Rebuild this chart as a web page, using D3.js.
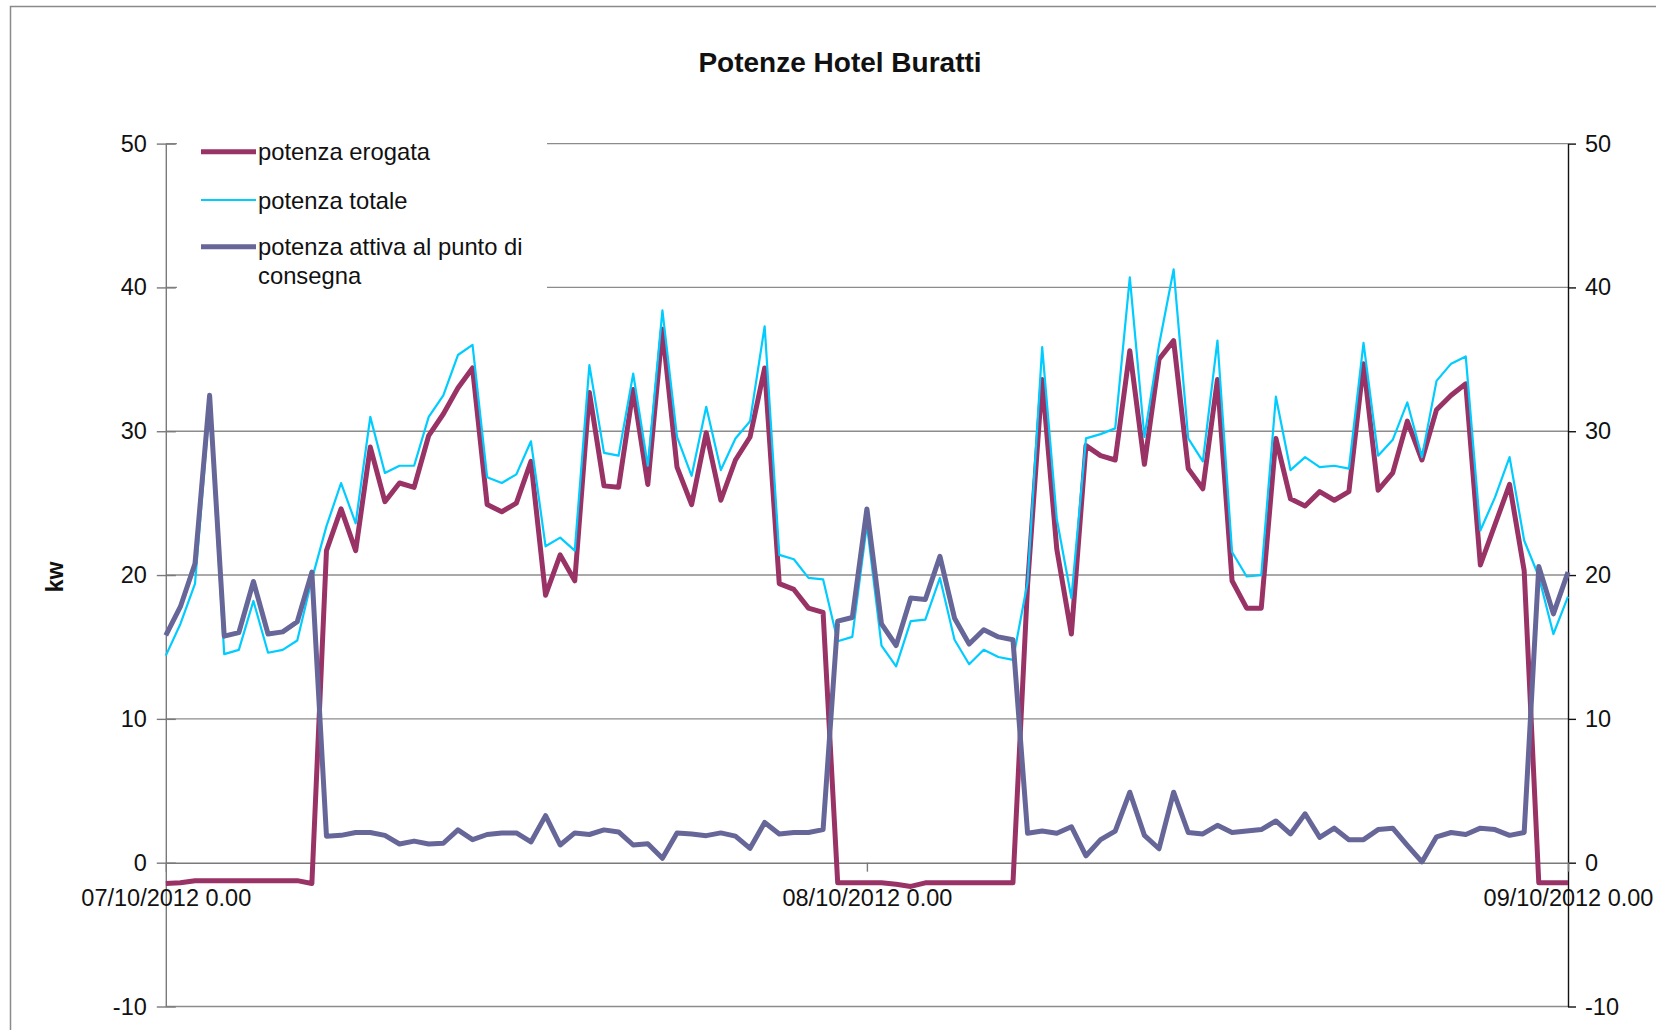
<!DOCTYPE html>
<html>
<head>
<meta charset="utf-8">
<script src="https://cdnjs.cloudflare.com/ajax/libs/d3/7.8.5/d3.min.js"></script>
<style>
  body { margin: 0; background: #fff; }
  text { font-family: "Liberation Sans", Arial, sans-serif; fill: #111; }
</style>
</head>
<body>
<div id="chart"></div>
<script>
// Half-hour readings, 07/10/2012 0.00 -> 09/10/2012 0.00 (97 points)
const startTime = new Date(2012, 9, 7, 0, 0);

const erogata = [
  -1.45, -1.4, -1.25, -1.25, -1.25, -1.25, -1.25, -1.25, -1.25, -1.25,
  -1.45, 21.7, 24.6, 21.7, 28.9, 25.1, 26.4, 26.1, 29.7, 31.2,
  33.0, 34.4, 24.9, 24.4, 25.0, 27.9, 18.6, 21.4, 19.6, 32.7,
  26.2, 26.1, 32.9, 26.3, 37.1, 27.5, 24.9, 29.9, 25.2, 28.0,
  29.6, 34.4, 19.4, 19.0, 17.7, 17.4, -1.4, -1.4, -1.4, -1.4,
  -1.5, -1.65, -1.4, -1.4, -1.4, -1.4, -1.4, -1.4, -1.4, 19.3,
  33.6, 21.8, 15.9, 29.0, 28.3, 28.0, 35.6, 27.7, 35.0, 36.3,
  27.4, 26.0, 33.6, 19.6, 17.7, 17.7, 29.5, 25.3, 24.8, 25.8,
  25.2, 25.8, 34.7, 25.9, 27.1, 30.7, 28.0, 31.5, 32.5, 33.3,
  20.7, 23.5, 26.3, 20.3, -1.4, -1.4, -1.4
];

const totale = [
  14.4, 16.6, 19.4, 31.8, 14.5, 14.8, 18.2, 14.6, 14.8, 15.45,
  19.7, 23.4, 26.4, 23.6, 31.0, 27.1, 27.6, 27.6, 31.0, 32.5,
  35.3, 36.0, 26.8, 26.4, 27.0, 29.3, 22.0, 22.6, 21.7, 34.6,
  28.5, 28.3, 34.0, 27.6, 38.4, 29.6, 26.9, 31.7, 27.3, 29.5,
  30.7, 37.3, 21.4, 21.1, 19.8, 19.7, 15.4, 15.7, 23.5, 15.1,
  13.65, 16.8, 16.9, 19.8, 15.5, 13.8, 14.8, 14.3, 14.1, 19.5,
  35.85, 23.9, 18.4, 29.5, 29.8, 30.2, 40.7, 29.6, 36.0, 41.25,
  29.5, 27.9, 36.3, 21.6, 19.9, 20.0, 32.4, 27.3, 28.2, 27.5,
  27.6, 27.4, 36.15, 28.3, 29.4, 32.0, 28.2, 33.5, 34.7, 35.2,
  23.1, 25.4, 28.2, 22.4, 19.9, 15.9, 18.5
];

const attiva = [
  15.8, 17.8, 20.8, 32.5, 15.75, 16.0, 19.55, 15.9, 16.05, 16.75,
  20.2, 1.84, 1.9, 2.1, 2.1, 1.9, 1.3, 1.5, 1.3, 1.35,
  2.28, 1.6, 1.96, 2.07, 2.07, 1.44, 3.27, 1.23, 2.07, 1.96,
  2.28, 2.14, 1.23, 1.31, 0.31, 2.07, 2.0, 1.88, 2.07, 1.85,
  1.0, 2.8, 2.0, 2.1, 2.1, 2.3, 16.8, 17.05, 24.6, 16.6,
  15.1, 18.4, 18.3, 21.3, 17.0, 15.2, 16.2, 15.7, 15.5, 2.05,
  2.2, 2.05, 2.5, 0.48, 1.6, 2.2, 4.9, 1.9, 0.97, 4.9,
  2.1, 2.0, 2.6, 2.1, 2.2, 2.3, 2.9, 2.0, 3.4, 1.76,
  2.4, 1.6, 1.6, 2.3, 2.4, 1.2, 0.05, 1.8, 2.1, 1.96,
  2.4, 2.3, 1.9, 2.1, 20.6, 17.3, 20.2
];

const yTicks = [-10, 0, 10, 20, 30, 40, 50];
const dayTicks = [new Date(2012, 9, 7), new Date(2012, 9, 8), new Date(2012, 9, 9)];
const seriesNames = ["potenza erogata", "potenza totale", "potenza attiva al punto di|consegna"];
const seriesColors = ["#993366", "#00ccff", "#666699"];
const seriesWidths = [5, 2.2, 5];

// Dimensions
const W = 1656, H = 1030;
const margin = { top: 143.6, right: 88, bottom: 23.5, left: 165.8 },
    width  = W - margin.left - margin.right,
    height = H - margin.top - margin.bottom;

const svg = d3.select("#chart")
    .append("svg")
    .attr("width", W)
    .attr("height", H);

// Outer chart border
svg.append("rect")
    .attr("x", 10.5).attr("y", 6.5)
    .attr("width", 1700).attr("height", 1100)
    .attr("fill", "none")
    .attr("stroke", "#8a8a8a")
    .attr("stroke-width", 1.5);

const g = svg.append("g")
    .attr("transform", `translate(${margin.left}, ${margin.top})`);

// Scales
const times = erogata.map((d, i) => d3.timeMinute.offset(startTime, 30 * i));
const x = d3.scaleTime()
    .domain([times[0], times[times.length - 1]])
    .range([0, width]);

const y = d3.scaleLinear()
    .domain([-10, 50])
    .range([height, 0]);

// plain hyphen for negatives, like the original
const yFormat = d => String(d);

// Gridlines
g.selectAll(".grid")
    .data(yTicks.filter(d => d !== 0))
    .enter()
    .append("line")
    .attr("x1", 0).attr("x2", width)
    .attr("y1", d => y(d)).attr("y2", d => y(d))
    .attr("stroke", "#8c8c8c")
    .attr("stroke-width", 1.4);

// Left axis
const yAxisL = g.append("g")
    .call(d3.axisLeft(y).tickValues(yTicks).tickFormat(yFormat)
        .tickSize(9).tickSizeOuter(0).tickPadding(10));
yAxisL.select(".domain").attr("stroke", "#7a7a7a").attr("stroke-width", 1.4);
yAxisL.selectAll(".tick line").attr("stroke", "#7a7a7a").attr("stroke-width", 1.4)
    .attr("x2", 10).attr("x1", -9);
yAxisL.selectAll(".tick text").attr("font-size", 23.5).attr("font-family", null).attr("fill", "#111");

// Right axis
const yAxisR = g.append("g")
    .attr("transform", `translate(${width}, 0)`)
    .call(d3.axisRight(y).tickValues(yTicks).tickFormat(yFormat)
        .tickSize(8).tickSizeOuter(0).tickPadding(9));
yAxisR.select(".domain").attr("stroke", "#111").attr("stroke-width", 1.4);
yAxisR.selectAll(".tick line").attr("stroke", "#111").attr("stroke-width", 1.4);
yAxisR.selectAll(".tick text").attr("font-size", 23.5).attr("font-family", null).attr("fill", "#111");

// X axis at zero
const xAxis = g.append("g")
    .attr("transform", `translate(0, ${y(0)})`)
    .call(d3.axisBottom(x)
        .tickValues(dayTicks)
        .tickFormat(d3.timeFormat("%d/%m/%Y %-H.%M"))
        .tickSize(9).tickSizeOuter(0).tickPadding(18));
xAxis.select(".domain").attr("stroke", "#7a7a7a").attr("stroke-width", 1.4);
xAxis.selectAll(".tick line").attr("stroke", "#7a7a7a").attr("stroke-width", 1.4);
xAxis.selectAll(".tick text").attr("font-size", 23.5).attr("font-family", null).attr("fill", "#111");

// Lines: erogata, totale, attiva (drawn in that order)
const lineGen = d3.line()
    .x((d, i) => x(times[i]))
    .y(d => y(d));

[erogata, totale, attiva].forEach((series, k) => {
    g.append("path")
        .datum(series)
        .attr("fill", "none")
        .attr("stroke", seriesColors[k])
        .attr("stroke-width", seriesWidths[k])
        .attr("stroke-linejoin", "round")
        .attr("stroke-linecap", "butt")
        .attr("d", lineGen);
});

// Legend (white box over gridlines)
const legend = svg.append("g");
legend.append("rect")
    .attr("x", 177).attr("y", 124)
    .attr("width", 370).attr("height", 172)
    .attr("fill", "#fff");

const legendRows = [151.7, 200, 246.7];
seriesNames.forEach((name, k) => {
    legend.append("line")
        .attr("x1", 201).attr("x2", 256)
        .attr("y1", legendRows[k]).attr("y2", legendRows[k])
        .attr("stroke", seriesColors[k])
        .attr("stroke-width", seriesWidths[k]);
    name.split("|").forEach((part, j) => {
        legend.append("text")
            .attr("x", 258)
            .attr("y", legendRows[k] + 8.5 + j * 28.5)
            .attr("font-size", 23.8)
            .text(part);
    });
});

// Title
svg.append("text")
    .attr("x", 840)
    .attr("y", 72)
    .attr("text-anchor", "middle")
    .attr("font-size", 28)
    .attr("font-weight", "bold")
    .text("Potenze Hotel Buratti");

// Y axis label
svg.append("text")
    .attr("transform", "translate(63, 577) rotate(-90)")
    .attr("text-anchor", "middle")
    .attr("font-size", 23)
    .attr("font-weight", "bold")
    .text("kw");
</script>
</body>
</html>
